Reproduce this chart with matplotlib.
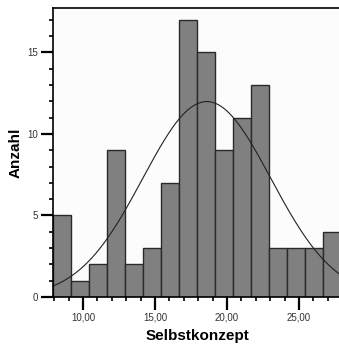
import matplotlib
matplotlib.use("Agg")
import matplotlib.pyplot as plt
import numpy as np
from matplotlib.ticker import MultipleLocator

plt.rcParams["font.family"] = ["Liberation Sans", "DejaVu Sans"]

# Histogram of Selbstkonzept scores
BIN_START = 7.92
BIN_WIDTH = 1.25
counts = [5, 1, 2, 9, 2, 3, 7, 17, 15, 9, 11, 13, 3, 3, 3, 4]
x_ticks = [10, 15, 20, 25]
y_ticks = [0, 5, 10, 15]

# normal curve parameters
MEAN = 18.6
SD = 4.45

edges = BIN_START + BIN_WIDTH * np.arange(len(counts) + 1)
n_total = sum(counts)

fig = plt.figure(figsize=(3.39, 3.45), dpi=100)
ax = fig.add_axes([53 / 339, 48 / 345, 288 / 339, 289 / 345])
ax.set_facecolor("#fbfcfb")

ax.bar(edges[:-1], counts, width=BIN_WIDTH, align="edge",
       color="#7f807f", edgecolor="#2a2a2a", linewidth=1.0)

xs = np.linspace(edges[0], edges[-1], 300)
ys = n_total * BIN_WIDTH / (SD * np.sqrt(2 * np.pi)) * np.exp(-0.5 * ((xs - MEAN) / SD) ** 2)
ax.plot(xs, ys, color="#222222", linewidth=0.8)

ax.set_xlim(edges[0], edges[-1])
ax.set_ylim(0, 17.73)

ax.set_xticks(x_ticks)
ax.set_yticks(y_ticks)
ax.set_xticklabels([f"{v:.2f}".replace(".", ",") for v in x_ticks])
ax.xaxis.set_minor_locator(MultipleLocator(1))
ax.yaxis.set_minor_locator(MultipleLocator(1))
ax.tick_params(axis="both", which="major", length=9, width=1.6, labelsize=7,
               colors="black", pad=2)
ax.tick_params(axis="both", which="minor", length=3, width=1.2)
for lbl in ax.get_xticklabels() + ax.get_yticklabels():
    lbl.set_color("#333333")

for side in ["top", "left", "bottom", "right"]:
    ax.spines[side].set_linewidth(1.2)

ax.set_xlabel("Selbstkonzept", fontsize=11, fontweight="bold", labelpad=5)
ax.set_ylabel("Anzahl", fontsize=11, fontweight="bold", labelpad=3)

fig.savefig("out.png", dpi=100)
